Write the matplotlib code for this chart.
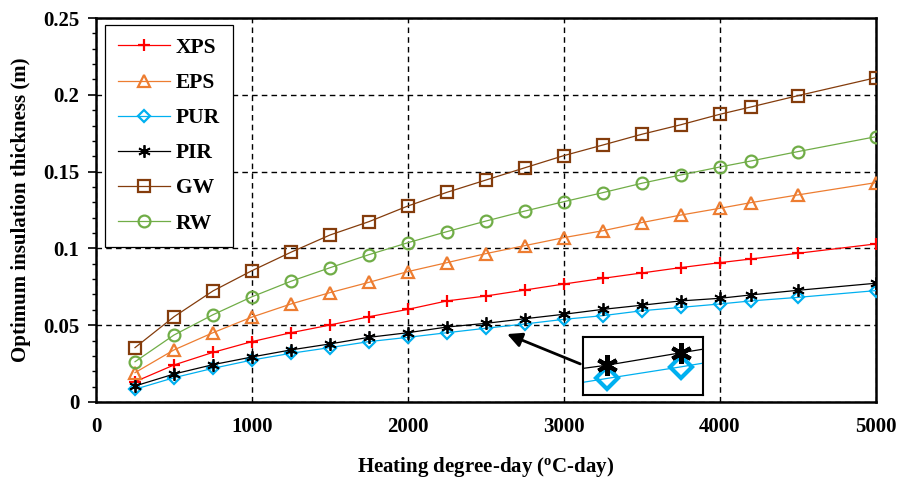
import matplotlib
matplotlib.use('Agg')
import matplotlib.pyplot as plt
from matplotlib.ticker import MultipleLocator

plt.rcParams['font.family'] = ['Liberation Serif', 'DejaVu Serif']
plt.rcParams['font.weight'] = 'bold'
plt.rcParams['mathtext.default'] = 'regular'

# heating degree-days
hdd = [250, 500, 750, 1000, 1250, 1500, 1750, 2000, 2250, 2500, 2750,
       3000, 3250, 3500, 3750, 4000, 4200, 4500, 5000]

# optimum insulation thickness (m)
xps = [0.0132, 0.0241, 0.0323, 0.0393, 0.0451, 0.0501, 0.0555, 0.0603, 0.0658, 0.0690,
       0.0729, 0.0768, 0.0805, 0.0840, 0.0875, 0.0907, 0.0931, 0.0968, 0.1029]
eps = [0.0191, 0.0339, 0.0451, 0.0553, 0.0638, 0.0712, 0.0779, 0.0849, 0.0907, 0.0966,
       0.1018, 0.1070, 0.1115, 0.1168, 0.1217, 0.1261, 0.1298, 0.1348, 0.1428]
pur = [0.0083, 0.0158, 0.0219, 0.0273, 0.0317, 0.0354, 0.0393, 0.0421, 0.0451, 0.0480,
       0.0508, 0.0538, 0.0562, 0.0594, 0.0616, 0.0638, 0.0658, 0.0681, 0.0725]
pir = [0.0104, 0.0182, 0.0243, 0.0293, 0.0339, 0.0378, 0.0421, 0.0451, 0.0488, 0.0512,
       0.0542, 0.0571, 0.0603, 0.0630, 0.0658, 0.0675, 0.0697, 0.0727, 0.0773]
gw = [0.0354, 0.0555, 0.0723, 0.0855, 0.0975, 0.1087, 0.1174, 0.1276, 0.1365, 0.1445,
      0.1525, 0.1604, 0.1673, 0.1743, 0.1805, 0.1873, 0.1921, 0.1994, 0.2111]
rw = [0.0262, 0.0436, 0.0568, 0.0685, 0.0786, 0.0874, 0.0959, 0.1037, 0.1109, 0.1178,
      0.1243, 0.1304, 0.1363, 0.1424, 0.1478, 0.1530, 0.1569, 0.1630, 0.1727]

series = [
    ('XPS', xps, '#FF0000', '+'),
    ('EPS', eps, '#ED7D31', '^'),
    ('PUR', pur, '#00B0F0', 'D'),
    ('PIR', pir, '#000000', (6, 2, 0)),
    ('GW', gw, '#843C0C', 's'),
    ('RW', rw, '#70AD47', 'o'),
]
sizes = {'+': 9, '^': 8, 'D': 6.5, 's': 8.5, 'o': 8.5}

fig = plt.figure(figsize=(9, 4.79), dpi=100)
ax = fig.add_axes([0.1067, 0.1608, 0.8663, 0.8016])

for name, y, c, m in series:
    ms = sizes.get(m, 9)
    mew = 1.3 if name == 'PIR' else 1.6
    ax.plot(hdd, y, color=c, lw=0.9, marker=m, ms=ms, mec=c, mfc='none',
            mew=mew, label=name, zorder=3)

ax.set_xlim(0, 5000)
ax.set_ylim(0, 0.25)
ax.xaxis.set_major_locator(MultipleLocator(1000))
ax.yaxis.set_minor_locator(MultipleLocator(0.01))
ax.set_yticks([0, 0.05, 0.1, 0.15, 0.2, 0.25])
ax.set_yticklabels(['0', '0.05', '0.1', '0.15', '0.2', '0.25'])
ax.tick_params(axis='x', length=0, pad=11, labelsize=15)
ax.tick_params(axis='y', which='major', direction='out', length=6, width=1.2,
               pad=6, labelsize=15)
ax.tick_params(axis='y', which='minor', direction='out', length=3, width=1.0)
ax.grid(True, which='major', color='black', ls=(0, (4, 3)), lw=1.0)
for s in ax.spines.values():
    s.set_linewidth(1.8)

ax.set_xlabel('Heating degree-day ($^{o}$C-day)', fontsize=15, fontweight='bold',
              labelpad=13)
ax.set_ylabel('Optimum insulation thickness (m)', fontsize=15, fontweight='bold',
              labelpad=9)

leg = ax.legend(loc='upper left', bbox_to_anchor=(0.0115, 0.982), fontsize=15.5,
                labelspacing=0.7, handlelength=2.4, handletextpad=0.3,
                borderpad=0.6, borderaxespad=0, fancybox=False, framealpha=1,
                edgecolor='black')
leg.get_frame().set_linewidth(0.9)

# inset zoom on PIR / PUR
ins = fig.add_axes([583 / 900, 1 - 395 / 479, 120 / 900, 58 / 479])
for name, y, c, m in series:
    if name in ('PUR', 'PIR'):
        ins.plot(hdd, y, color=c, lw=0.9, marker=m, ms=15 if name == 'PIR' else 11,
                 mec=c, mfc='none', mew=3.0)
ins.set_xlim(2419, 2824)
ins.set_ylim(0.044, 0.058)
ins.set_xticks([])
ins.set_yticks([])
for s in ins.spines.values():
    s.set_linewidth(1.5)

ax.annotate('', xy=(2620, 0.0449), xytext=(3122, 0.0241),
            arrowprops=dict(arrowstyle='-|>', color='black', lw=2,
                            mutation_scale=22), zorder=5)

fig.savefig('out.png', dpi=100)
